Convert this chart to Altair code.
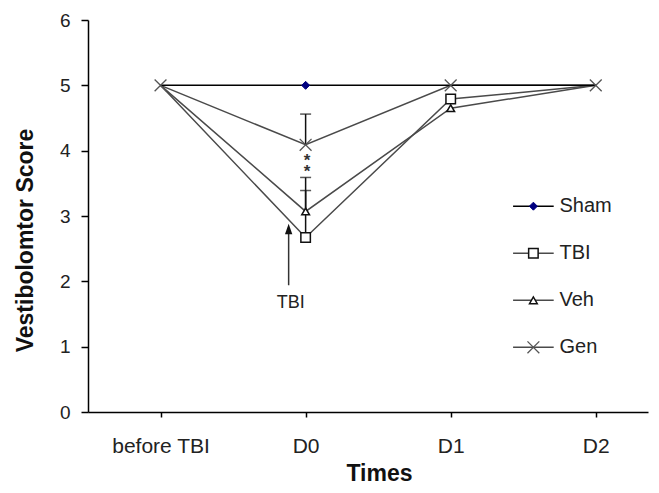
import json
import altair as alt
import pandas as pd

# ---------------- data ----------------
times = ["before TBI", "D0", "D1", "D2"]
x_idx = [0, 1, 2, 3]
series = ["Sham", "TBI", "Veh", "Gen"]
sham = [5.0, 5.0, 5.0, 5.0]
tbi = [5.0, 2.67, 4.79, 5.0]
veh = [5.0, 3.07, 4.65, 5.0]
gen = [5.0, 4.09, 5.0, 5.0]
# upper error (SEM) at D0
tbi_err = [0.0, 0.72, 0.0, 0.0]
veh_err = [0.0, 0.52, 0.0, 0.0]
gen_err = [0.0, 0.47, 0.0, 0.0]
# which markers are visible in the original figure
sham_mark = [False, True, False, False]
tbi_mark = [False, True, True, False]
veh_mark = [False, True, True, False]
gen_mark = [True, True, True, True]
# significance stars at D0 (two stacked asterisks)
star_text = ["*", " *"]
star_x = 1.01
star_y = 3.83
# annotation arrow
arrow_text = "TBI"
arrow_x = 0.883
arrow_from = 1.94
arrow_to = 2.78
arrow_tip = 2.80
arrow_label_y = 1.67
# legend placement (data units)
legend_y = [3.15, 2.43, 1.71, 0.99]
legend_x0, legend_x1, legend_xm, legend_xt = 2.43, 2.71, 2.57, 2.75

FONT = "Liberation Sans"
X_PATH = "M-1,-1L1,1M-1,1L1,-1"
DIAMOND = "M0,-1L1,0L0,1L-1,0Z"
ARROW = "M0,-1L0.7,1L-0.7,1Z"

values = {"Sham": sham, "TBI": tbi, "Veh": veh, "Gen": gen}
errs = {"TBI": tbi_err, "Veh": veh_err, "Gen": gen_err}
marks = {"Sham": sham_mark, "TBI": tbi_mark, "Veh": veh_mark, "Gen": gen_mark}
line_color = {"Sham": "#000000", "TBI": "#4a4a4a", "Veh": "#4a4a4a", "Gen": "#4a4a4a"}
marker_style = {
    "Sham": dict(shape=DIAMOND, filled=True, fill="#000080", stroke="#000080", strokeWidth=1, size=64),
    "TBI": dict(shape="square", filled=True, fill="white", stroke="#111111", strokeWidth=1.5, size=90),
    "Veh": dict(shape="triangle-up", filled=True, fill="white", stroke="#111111", strokeWidth=1.5, size=60),
    "Gen": dict(shape=X_PATH, filled=False, stroke="#555555", strokeWidth=1.3, size=140),
}

x_enc = alt.X(
    "x:Q",
    scale=alt.Scale(domain=[-0.5, 3.36], nice=False, zero=False),
    axis=alt.Axis(
        title="Times", values=x_idx,
        labelExpr=json.dumps(times) + "[datum.value]",
        tickSize=5, tickWidth=1.5, tickColor="#000", domainColor="#000", domainWidth=1.5,
        labelPadding=35, labelBaseline="alphabetic", labelFontSize=21, labelFont=FONT,
        labelColor="#222", labelFlush=False, labelOverlap=False,
        titleFont=FONT, titleFontSize=23, titleFontWeight="bold", titleColor="#111",
        titleX=291, titleY=61, titleBaseline="middle", titleAlign="center", grid=False,
    ),
)
y_enc = alt.Y(
    "v:Q",
    scale=alt.Scale(domain=[0, 6], nice=False, zero=True),
    axis=alt.Axis(
        title="Vestibolomtor Score", values=[0, 1, 2, 3, 4, 5, 6], format="d",
        tickSize=7, tickWidth=1.5, tickColor="#000", domainColor="#000", domainWidth=1.5,
        labelPadding=11, labelFontSize=19, labelFont=FONT, labelColor="#222",
        titleFont=FONT, titleFontSize=23, titleFontWeight="bold", titleColor="#111",
        titleX=-63, titleY=220, titleAngle=270, titleAlign="center", titleBaseline="middle",
        grid=False,
    ),
)

layers = []
# lines
for s in ["Gen", "Veh", "TBI", "Sham"]:
    d = pd.DataFrame({"x": x_idx, "v": values[s]})
    layers.append(alt.Chart(d).mark_line(color=line_color[s], strokeWidth=1.5).encode(x=x_enc, y=y_enc))

# error bars (upper only)
for s in ["TBI", "Veh", "Gen"]:
    d = pd.DataFrame({"x": x_idx, "v": values[s], "e": errs[s]})
    d = d[d["e"] > 0].copy()
    d["hi"] = d["v"] + d["e"]
    layers.append(alt.Chart(d).mark_rule(color="#111", strokeWidth=1.5).encode(x=x_enc, y=y_enc, y2="hi:Q"))
    cap = pd.DataFrame({"x": d["x"].tolist(), "v": d["hi"].tolist()})
    layers.append(alt.Chart(cap).mark_tick(orient="horizontal", size=11, thickness=1.5, color="#111")
                  .encode(x=x_enc, y=y_enc))

# markers
for s in ["Sham", "Veh", "TBI", "Gen"]:
    d = pd.DataFrame({"x": x_idx, "v": values[s], "m": marks[s]})
    d = d[d["m"]]
    layers.append(alt.Chart(d).mark_point(opacity=1, **marker_style[s]).encode(x=x_enc, y=y_enc))

# stars
ds = pd.DataFrame({"x": [star_x], "v": [star_y], "t": [star_text]})
layers.append(alt.Chart(ds).mark_text(fontSize=17, fontWeight="bold", font=FONT, color="#333",
                                      baseline="middle", lineHeight=11, dy=-1)
              .encode(x=x_enc, y=y_enc, text="t"))

# arrow annotation
da = pd.DataFrame({"x": [arrow_x], "v": [arrow_from], "v2": [arrow_to]})
layers.append(alt.Chart(da).mark_rule(color="#333", strokeWidth=1.5).encode(x=x_enc, y=y_enc, y2="v2:Q"))
dh = pd.DataFrame({"x": [arrow_x], "v": [arrow_tip]})
layers.append(alt.Chart(dh).mark_point(shape=ARROW, filled=True, color="#111", size=110, opacity=1)
              .encode(x=x_enc, y=y_enc))
dt = pd.DataFrame({"x": [arrow_x + 0.014], "v": [arrow_label_y], "t": [arrow_text]})
layers.append(alt.Chart(dt).mark_text(fontSize=18, font=FONT, color="#222", baseline="middle")
              .encode(x=x_enc, y=y_enc, text="t:N"))

# custom legend
for s, ly in zip(series, legend_y):
    dl = pd.DataFrame({"x": [legend_x0], "x2": [legend_x1], "v": [ly]})
    layers.append(alt.Chart(dl).mark_rule(color=line_color[s], strokeWidth=1.5)
                  .encode(x=x_enc, x2="x2:Q", y=y_enc))
    dm = pd.DataFrame({"x": [legend_xm], "v": [ly]})
    layers.append(alt.Chart(dm).mark_point(opacity=1, **marker_style[s]).encode(x=x_enc, y=y_enc))
    dtx = pd.DataFrame({"x": [legend_xt], "v": [ly], "t": [s]})
    layers.append(alt.Chart(dtx).mark_text(align="left", baseline="middle", fontSize=20, font=FONT,
                                           color="#222").encode(x=x_enc, y=y_enc, text="t:N"))

chart = alt.layer(*layers).properties(
    width=560, height=392,
    padding={"left": 80, "top": 12, "right": 2, "bottom": 73},
    autosize=alt.AutoSizeParams(type="none"),
    background="white",
).configure_view(stroke=None)

chart.save("out.html", embed_options={"renderer": "svg", "actions": False})
